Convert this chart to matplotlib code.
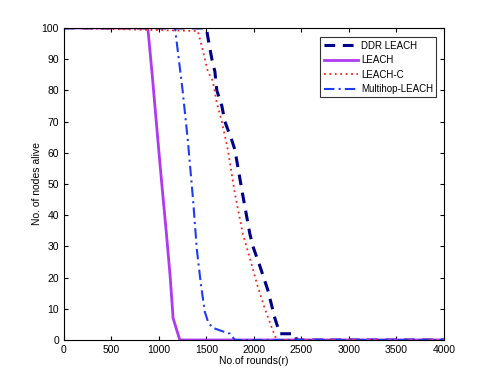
import matplotlib
matplotlib.use("Agg")
import matplotlib.pyplot as plt

# DDR LEACH
ddr_x = [0, 1500, 1516, 1558, 1590, 1610, 1663, 1695, 1768, 1800, 1880, 1958, 1990, 2060, 2147, 2221, 2253, 2274, 2432, 2450, 4000]
ddr_y = [100, 100, 97, 90, 86, 80, 75, 70, 64, 61, 47, 34, 30, 24, 16, 7, 4, 2, 2, 0, 0]
# LEACH
leach_x = [0, 884, 930, 990, 1028, 1080, 1120, 1150, 1190, 1221, 4000]
leach_y = [100, 100, 85, 64, 51, 34, 20, 7, 3, 0, 0]
# LEACH-C
leachc_x = [0, 1410, 1453, 1516, 1568, 1610, 1663, 1726, 1800, 1884, 1960, 2032, 2116, 2200, 2240, 4000]
leachc_y = [100, 99, 94, 86, 83, 76, 70, 61, 47, 34, 26, 18, 10, 3, 0, 0]
# Multihop-LEACH
mh_x = [0, 1170, 1250, 1305, 1360, 1400, 1442, 1484, 1516, 1560, 1650, 1750, 1800, 4000]
mh_y = [100, 100, 80, 64, 45, 29, 18, 9, 6, 4, 3, 2, 0, 0]

plt.rcParams['font.family'] = ['Liberation Sans', 'DejaVu Sans']

fig = plt.figure(figsize=(4.91, 3.82), dpi=100)
ax = fig.add_axes([0.130, 0.110, 0.774, 0.817])

ax.plot(ddr_x, ddr_y, color='#00008B', linestyle=(0, (3.5, 2.5)), linewidth=2.2, label='DDR LEACH')
ax.plot(leach_x, leach_y, color='#B03AF0', linestyle='-', linewidth=2.0, label='LEACH')
ax.plot(leachc_x, leachc_y, color='#FF2020', linestyle=(0, (1, 2)), linewidth=1.3, label='LEACH-C')
ax.plot(mh_x, mh_y, color='#1E3CF0', linestyle=(0, (5, 2, 1, 2)), linewidth=1.5, label='Multihop-LEACH')

ax.set_xlim(0, 4000)
ax.set_ylim(0, 100)
ax.set_xticks(range(0, 4001, 500))
ax.set_yticks(range(0, 101, 10))
ax.tick_params(direction='in', top=True, right=True, labelsize=7.5, length=3)
ax.set_xlabel('No.of rounds(r)', fontsize=7.5, labelpad=1)
ax.set_ylabel('No. of nodes alive', fontsize=7.5)
ax.yaxis.set_label_coords(-0.058, 0.5)
for s in ax.spines.values():
    s.set_linewidth(0.8)

leg = ax.legend(loc='upper right', fontsize=7, frameon=True, fancybox=False,
                edgecolor='black', handlelength=3.5, borderpad=0.35, labelspacing=0.45,
                handletextpad=0.3, bbox_to_anchor=(0.993, 0.985))
leg.get_frame().set_linewidth(0.8)

fig.savefig('out.png', dpi=100)
